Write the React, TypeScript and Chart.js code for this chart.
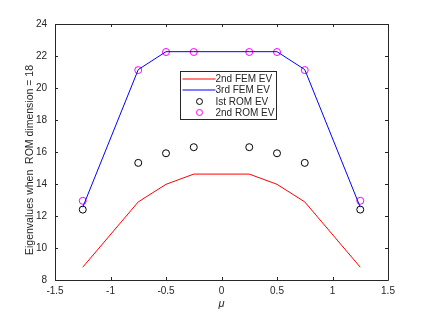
import React, { useEffect, useRef } from "react";
import { Chart, registerables } from "chart.js";

Chart.register(...registerables);

const muValues = [-1.25, -0.75, -0.5, -0.25, 0.25, 0.5, 0.75, 1.25];
const fem2 = [8.8, 12.88, 13.98, 14.62, 14.62, 13.98, 12.88, 8.8];
const fem3 = [12.55, 21.15, 22.27, 22.27, 22.27, 22.27, 21.15, 12.55];
const rom1 = [12.4, 15.32, 15.92, 16.3, 16.3, 15.92, 15.32, 12.4];
const rom2 = [12.95, 21.12, 22.25, 22.25, 22.25, 22.25, 21.12, 12.95];
const xTicks = [-1.5, -1, -0.5, 0, 0.5, 1, 1.5];
const yTicks = [8, 10, 12, 14, 16, 18, 20, 22, 24];
const legendLabels = ["2nd FEM EV", "3rd FEM EV", "Ist ROM EV", "2nd ROM EV"];
const xTitle = "μ";
const yTitle = "Eigenvalues when  ROM dimension = 18";

const AX = "#262626";
const FONT = "'Liberation Sans', Arial, sans-serif";

const pts = (ys: number[]) => muValues.map((x, i) => ({ x, y: ys[i] }));

const decorPlugin = {
  id: "decor",
  afterDraw(chart: any) {
    const { ctx, chartArea: a, scales } = chart;
    const xs = scales.x, ys = scales.y;
    ctx.save();
    ctx.strokeStyle = AX;
    ctx.lineWidth = 1;
    ctx.beginPath();
    ctx.rect(Math.round(a.left) + 0.5, Math.round(a.top) + 0.5, Math.round(a.right - a.left), Math.round(a.bottom - a.top));
    ctx.stroke();
    const tl = 3;
    ctx.beginPath();
    xTicks.forEach((v) => {
      const px = Math.round(xs.getPixelForValue(v)) + 0.5;
      ctx.moveTo(px, a.bottom); ctx.lineTo(px, a.bottom - tl);
      ctx.moveTo(px, a.top); ctx.lineTo(px, a.top + tl);
    });
    yTicks.forEach((v) => {
      const py = Math.round(ys.getPixelForValue(v)) + 0.5;
      ctx.moveTo(a.left, py); ctx.lineTo(a.left + tl, py);
      ctx.moveTo(a.right, py); ctx.lineTo(a.right - tl, py);
    });
    ctx.stroke();

    // titles
    ctx.fillStyle = AX;
    ctx.textAlign = "center";
    ctx.textBaseline = "middle";
    ctx.font = `italic 11px ${FONT}`;
    ctx.fillText(xTitle, (a.left + a.right) / 2, 304);
    ctx.save();
    ctx.translate(30, 160);
    ctx.rotate(-Math.PI / 2);
    ctx.font = `10.5px ${FONT}`;
    ctx.fillText(yTitle, 0, 0);
    ctx.restore();

    // legend
    const lx = 180.5, ly = 71.5, lw = 96, lh = 48;
    ctx.fillStyle = "#ffffff";
    ctx.fillRect(lx, ly, lw, lh);
    ctx.strokeStyle = AX;
    ctx.strokeRect(lx, ly, lw, lh);
    const rowY = [ly + 7.5, ly + 18.5, ly + 30, ly + 41];
    const colors = ["#ff0000", "#0000ff", "#000000", "#ff00ff"];
    ctx.font = `10px ${FONT}`;
    ctx.textAlign = "left";
    for (let i = 0; i < 4; i++) {
      ctx.strokeStyle = colors[i];
      ctx.lineWidth = 1;
      if (i < 2) {
        ctx.beginPath();
        ctx.moveTo(lx + 2, rowY[i]);
        ctx.lineTo(lx + 35, rowY[i]);
        ctx.stroke();
      } else {
        ctx.beginPath();
        ctx.arc(lx + 19, rowY[i], 3, 0, Math.PI * 2);
        ctx.stroke();
      }
      ctx.fillStyle = AX;
      ctx.fillText(legendLabels[i], lx + 35, rowY[i] + 0.5);
    }
    ctx.restore();
  },
};

export default function App() {
  const ref = useRef<HTMLCanvasElement | null>(null);
  useEffect(() => {
    if (!ref.current) return;
    const chart = new Chart(ref.current, {
      type: "line",
      data: {
        datasets: [
          { label: legendLabels[0], data: pts(fem2), borderColor: "#ff0000", borderWidth: 1, pointRadius: 0, fill: false },
          { label: legendLabels[1], data: pts(fem3), borderColor: "#0000ff", borderWidth: 1, pointRadius: 0, fill: false },
          { label: legendLabels[2], data: pts(rom1), showLine: false, borderColor: "#000000", backgroundColor: "rgba(0,0,0,0)", pointRadius: 3.5, pointBorderWidth: 1 },
          { label: legendLabels[3], data: pts(rom2), showLine: false, borderColor: "#ff00ff", backgroundColor: "rgba(0,0,0,0)", pointRadius: 3.5, pointBorderWidth: 1 },
        ],
      },
      options: {
        responsive: false,
        animation: false,
        layout: { padding: { top: 24, right: 40, left: 0, bottom: 0 } },
        plugins: { legend: { display: false }, tooltip: { enabled: false } },
        scales: {
          x: {
            type: "linear",
            min: -1.5,
            max: 1.5,
            afterBuildTicks: (s: any) => { s.ticks = xTicks.map((v) => ({ value: v })); },
            afterFit: (s: any) => { s.height = 35; },
            grid: { display: false, drawTicks: false },
            border: { display: false },
            ticks: { color: AX, font: { family: FONT, size: 10 }, padding: 5, maxRotation: 0, callback: (v: any) => String(v) },
          },
          y: {
            type: "linear",
            min: 8,
            max: 24,
            afterBuildTicks: (s: any) => { s.ticks = yTicks.map((v) => ({ value: v })); },
            afterFit: (s: any) => { s.width = 55; },
            grid: { display: false, drawTicks: false },
            border: { display: false },
            ticks: { color: AX, font: { family: FONT, size: 10 }, padding: 8, callback: (v: any) => String(v) },
          },
        },
      },
      plugins: [decorPlugin],
    } as any);
    return () => chart.destroy();
  }, []);
  return (
    <div style={{ position: "absolute", left: 0, top: 0, width: 428, height: 315, background: "#fff" }}>
      <canvas ref={ref} width={428} height={315} />
    </div>
  );
}
